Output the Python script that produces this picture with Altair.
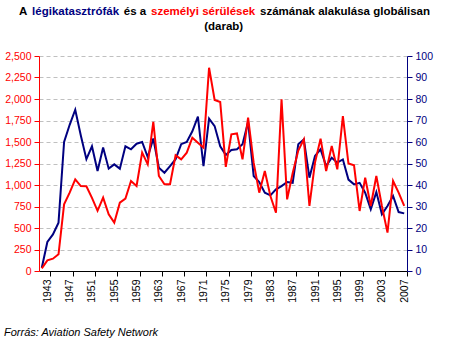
import altair as alt
import pandas as pd

FONT = "Liberation Sans"
RED = "#FF0000"
NAVY = "#000080"

years = list(range(1942, 2008))
# number of air disasters (right axis, blue)
crashes = [1.5, 13.5, 17, 22.5, 60, 68, 75, 63, 52, 58,
           46.5, 57.4, 47.6, 49.6, 47.6, 58, 56.6, 59.2, 60, 53,
           61.6, 48, 45.7, 48.8, 52, 59, 60, 65, 71.8, 48.8,
           70.9, 67.4, 58, 54, 56.3, 56.6, 59, 69.3, 44.2, 41.4,
           36.4, 35.2, 38, 39.5, 41.4, 41, 59, 61.2, 43.4, 53.5,
           56.6, 48.8, 52.7, 50.4, 51.9, 42.5, 40.3, 41, 36.4, 28.7,
           36.7, 26.4, 30.2, 34.9, 27.4, 26.8]
# number of personal injuries / fatalities (left axis, red)
injuries = [31, 124, 143, 194, 775, 911, 1066, 988, 985, 850,
            700, 853, 659, 562, 795, 841, 1047, 988, 1376, 1240,
            1733, 1105, 1008, 1008, 1345, 1298, 1376, 1550, 1492, 1434,
            2364, 1988, 1965, 1210, 1589, 1600, 1298, 1783, 1260, 911,
            1163, 872, 678, 1996, 833, 1140, 1400, 1530, 756, 1260,
            1539, 1163, 1454, 1182, 1802, 1250, 1229, 698, 1085, 756,
            1105, 756, 446, 1047, 911, 756]

x_ticks = list(range(1943, 2008, 4))
left_ticks = list(range(0, 2501, 250))
right_ticks = list(range(0, 101, 10))

df = pd.DataFrame({"year": years, "crashes": crashes, "injuries": injuries})

x_enc = alt.X(
    "year:Q",
    scale=alt.Scale(domain=[1941.5, 2007.5], nice=False, zero=False),
    axis=alt.Axis(values=x_ticks, format="d", labelAngle=-90, title=None, grid=False,
                  domainColor="black", tickColor="black", tickSize=5, tickOffset=3,
                  labelOffset=-3, labelColor="black", labelFont=FONT, labelFontSize=10.5,
                  labelPadding=3, labelOverlap=False),
)

base = alt.Chart(df)

blue = base.mark_line(color=NAVY, strokeWidth=2).encode(
    x=x_enc,
    y=alt.Y("crashes:Q",
            scale=alt.Scale(domain=[0, 100], nice=False),
            axis=alt.Axis(orient="right", values=right_ticks, format="d", title=None, grid=False,
                          domainColor=NAVY, tickColor=NAVY, labelColor=NAVY, tickSize=5,
                          labelPadding=3, labelFont=FONT, labelFontSize=10.5)),
)

red = base.mark_line(color=RED, strokeWidth=2).encode(
    x=x_enc,
    y=alt.Y("injuries:Q",
            scale=alt.Scale(domain=[0, 2500], nice=False),
            axis=alt.Axis(orient="left", values=left_ticks, format=",.0f", title=None, grid=True,
                          gridColor="#C0C0C0", gridDash=[4, 3], gridWidth=1,
                          domainColor=RED, tickColor=RED, labelColor=RED, tickSize=5,
                          labelPadding=3, labelFont=FONT, labelFontSize=10.5)),
)


def txt(s, x, y, color, size, weight="normal", style="normal", align="left"):
    return alt.Chart(pd.DataFrame({"t": [s]})).mark_text(
        align=align, baseline="alphabetic", font=FONT, fontSize=size,
        fontWeight=weight, fontStyle=style, color=color,
    ).encode(text="t:N", x=alt.value(x), y=alt.value(y))


texts = [
    txt("A", -20, -41, "black", 11.5, "bold"),
    txt("légikatasztrófák", -6.9, -41, NAVY, 11.5, "bold"),
    txt("és a", 84.8, -41, "black", 11.5, "bold"),
    txt("személyi sérülések", 112, -41, RED, 11.5, "bold"),
    txt("számának alakulása globálisan", 221, -41, "black", 11.5, "bold"),
    txt("(darab)", 184.7, -26.5, "black", 11.5, "bold", align="center"),
    txt("Forrás: Aviation Safety Network", -35, 279.5, "black", 11, style="italic"),
]

chart = alt.layer(blue, red, *texts).resolve_scale(y="independent").properties(
    width=368,
    height=215,
    autosize=alt.AutoSizeParams(type="none"),
    padding={"left": 39, "top": 56, "right": 42, "bottom": 70},
    background="white",
).configure_view(stroke="transparent")

chart.save("out.html", embed_options={"renderer": "svg", "actions": False})
